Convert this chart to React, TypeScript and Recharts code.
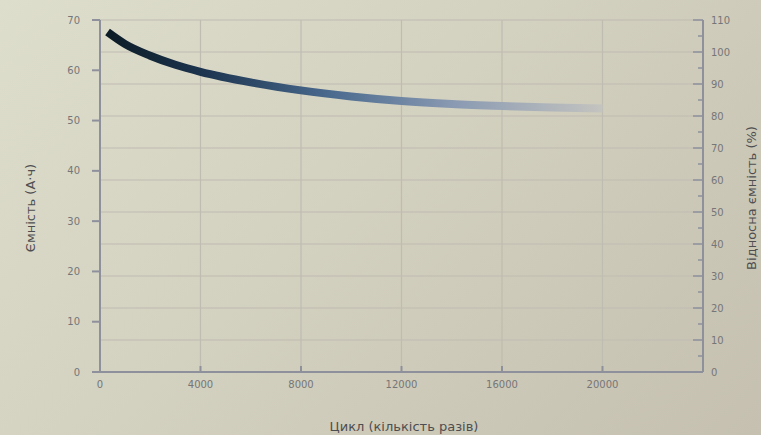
import React from "react";
import {
  LineChart,
  Line,
  XAxis,
  YAxis,
  CartesianGrid,
} from "recharts";

// values
const cycles = [300, 1000, 2000, 3000, 4000, 6000, 8000, 10000, 12000, 14000, 16000, 18000, 20000];
const capacity = [67.6, 65.2, 62.9, 61.1, 59.7, 57.6, 56.0, 54.8, 53.9, 53.3, 52.9, 52.6, 52.4];

const cycleTicks = [0, 4000, 8000, 12000, 16000, 20000];
const capacityTicks = [0, 10, 20, 30, 40, 50, 60, 70];
const percentTicks = [0, 5, 10, 15, 20, 25, 30, 35, 40, 45, 50, 55, 60, 65, 70, 75, 80, 85, 90, 95, 100, 105, 110];
const percentGrid = [10, 20, 30, 40, 50, 60, 70, 80, 90, 100, 110];

const data = cycles.map((c, i) => ({ cycle: c, cap: capacity[i] }));

const tickColor = "#767678";
const axisColor = "#8e909c";
const gridColor = "#bfbcb1";

const RightTick = (props: any) => {
  const { x, y, payload } = props;
  const v = payload.value;
  const major = v % 10 === 0;
  // axis line sits tickMargin to the left of the label
  const axisX = x - 8;
  return (
    <g>
      <line
        x1={axisX - (major ? 10 : 5)}
        x2={axisX}
        y1={y}
        y2={y}
        stroke={axisColor}
        strokeWidth={1.5}
      />
      {major && (
        <text x={x} y={y} dy={4} fill={tickColor} fontSize={10} textAnchor="start">
          {v}
        </text>
      )}
    </g>
  );
};

export default function App() {
  return (
    <div
      style={{
        position: "fixed",
        left: 0,
        top: 0,
        width: 761,
        height: 435,
        background: "linear-gradient(135deg, #dedecd 0%, #d3d1c0 45%, #c5c0af 100%)",
        fontFamily: "'DejaVu Sans', sans-serif",
        overflow: "hidden",
      }}
    >
      <LineChart
        width={761}
        height={435}
        data={data}
        margin={{ top: 20, right: 0, bottom: 33, left: 0 }}
      >
        <defs>
          <linearGradient id="capGrad" x1="0" y1="0" x2="1" y2="0">
            <stop offset="0%" stopColor="#0c1c26" />
            <stop offset="20%" stopColor="#1d3550" />
            <stop offset="45%" stopColor="#4a6a8e" />
            <stop offset="70%" stopColor="#8a9ab2" />
            <stop offset="100%" stopColor="#c4c4c0" />
          </linearGradient>
        </defs>

        <CartesianGrid
          yAxisId="right"
          horizontalValues={percentGrid}
          verticalValues={cycleTicks}
          stroke={gridColor}
          strokeWidth={1.2}
        />

        <XAxis
          dataKey="cycle"
          type="number"
          domain={[0, 24000]}
          ticks={cycleTicks}
          height={30}
          stroke={axisColor}
          strokeWidth={2}
          tickSize={-6}
          tickMargin={15}
          tick={{ fill: tickColor, fontSize: 10 }}
        />

        <YAxis
          yAxisId="left"
          orientation="left"
          domain={[0, 70]}
          ticks={capacityTicks}
          width={100}
          stroke={axisColor}
          strokeWidth={2}
          tickSize={8}
          tickMargin={12}
          tick={{ fill: tickColor, fontSize: 10 }}
        />

        <YAxis
          yAxisId="right"
          orientation="right"
          type="number"
          domain={[0, 110]}
          ticks={percentTicks}
          interval={0}
          width={58}
          stroke={axisColor}
          strokeWidth={2}
          tickLine={false}
          tickSize={0}
          tickMargin={8}
          tick={<RightTick />}
        />

        {/* carries the right-hand scale, not drawn */}
        <Line
          yAxisId="right"
          dataKey="cap"
          stroke="none"
          dot={false}
          legendType="none"
          isAnimationActive={false}
        />

        <Line
          yAxisId="left"
          dataKey="cap"
          type="monotone"
          stroke="url(#capGrad)"
          strokeWidth={8}
          dot={false}
          isAnimationActive={false}
        />
      </LineChart>

      <div
        style={{
          position: "absolute",
          left: 30,
          top: 208,
          transform: "translate(-50%, -50%) rotate(-90deg)",
          whiteSpace: "nowrap",
          fontSize: 13,
          color: "#4e4e50",
        }}
      >
        Ємність (А·ч)
      </div>

      <div
        style={{
          position: "absolute",
          left: 751,
          top: 198,
          transform: "translate(-50%, -50%) rotate(-90deg)",
          whiteSpace: "nowrap",
          fontSize: 13,
          color: "#4e4e50",
        }}
      >
        Відносна ємність (%)
      </div>

      <div
        style={{
          position: "absolute",
          left: 404,
          top: 426,
          transform: "translate(-50%, -50%)",
          whiteSpace: "nowrap",
          fontSize: 13,
          color: "#4e4e50",
        }}
      >
        Цикл (кількість разів)
      </div>
    </div>
  );
}
